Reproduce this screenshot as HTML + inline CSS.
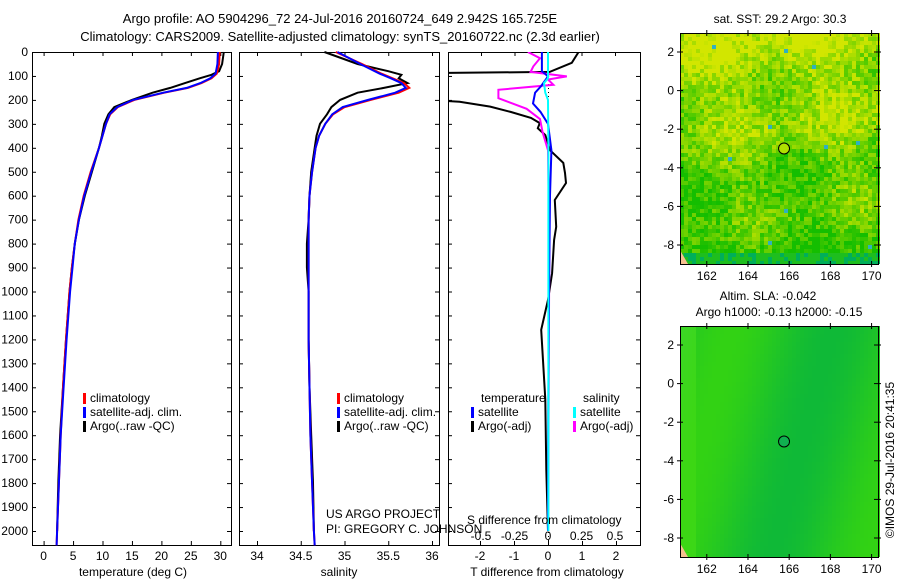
<!DOCTYPE html>
<html><head><meta charset="utf-8"><style>
body{margin:0;background:#fff}
svg{display:block;font-family:"Liberation Sans",sans-serif;font-size:12px}
</style></head><body>
<svg id="c" width="900" height="580" viewBox="0 0 900 580">
<rect width="900" height="580" fill="#fff"/>
<text x="340" y="23" text-anchor="middle" font-size="13">Argo profile: AO 5904296_72 24-Jul-2016 20160724_649 2.942S 165.725E</text>
<text x="340" y="41" text-anchor="middle" font-size="13">Climatology: CARS2009. Satellite-adjusted climatology: synTS_20160722.nc (2.3d earlier)</text>
<g id="g"></g>
</svg>
<script>
// ---- data ----
const depthTicks=[0,100,200,300,400,500,600,700,800,900,1000,1100,1200,1300,1400,1500,1600,1700,1800,1900,2000];
const tempTicks=[0,5,10,15,20,25,30];
const salTicks=[34,34.5,35,35.5,36];
const salTickLabels=["34","34.5","35","35.5","36"];
const tdiffTicks=[-2,-1,0,1,2];
const sdiffTicks=[-0.5,-0.25,0,0.25,0.5];
const sdiffTickLabels=["-0.5","-0.25","0","0.25","0.5"];

const climDepth=[0,50,90,110,130,150,170,200,230,260,300,350,400,500,600,700,800,900,1000,1200,1400,1600,1800,2000,2060];
const climTemp=[29.9,29.8,29.4,28.5,26.8,24.5,20.5,15.4,12.6,11.3,10.6,10.0,9.4,8.0,6.8,5.9,5.3,4.8,4.4,3.8,3.3,2.9,2.6,2.3,2.2];
const satTemp=[29.6,29.5,29.2,28.3,26.6,24.3,20.3,15.2,12.5,11.2,10.6,10.0,9.4,8.1,6.9,6.0,5.3,4.9,4.5,3.9,3.4,2.9,2.6,2.3,2.2];
const argoDepth=[0,50,80,95,110,130,150,170,200,230,260,300,350,400,500,600,700,800,900,1000,1200,1400,1600,1800,2000];
const argoTemp=[30.6,30.3,29.8,28.5,26.5,24.0,21.5,18.5,15.0,12.0,11.0,10.3,9.9,9.4,8.2,7.0,6.0,5.3,4.8,4.4,3.8,3.3,2.8,2.5,2.3];

const climSal=[34.9,35.2,35.42,35.55,35.68,35.74,35.62,35.3,35.0,34.87,34.78,34.71,34.67,34.63,34.6,34.59,34.59,34.59,34.59,34.59,34.6,34.61,34.63,34.65,34.66];
const satSal=[34.92,35.18,35.4,35.53,35.65,35.7,35.58,35.27,34.98,34.86,34.78,34.71,34.67,34.63,34.6,34.59,34.59,34.59,34.59,34.59,34.6,34.61,34.63,34.65,34.66];
const argoSal=[34.77,35.15,35.5,35.65,35.62,35.72,35.45,35.15,34.95,34.85,34.8,34.72,34.68,34.66,34.62,34.6,34.59,34.57,34.57,34.59,34.59,34.6,34.62,34.64,34.65];

const tdiffArgoDepth=[0,45,83,88,112,200,208,228,250,275,297,318,347,410,463,505,547,618,730,785,923,1035,1160,1450,1745,2000];
const tdiffArgo=[0.9,0.7,0.05,-3.5,-3.5,-3.5,-2.6,-1.7,-1.1,-0.5,-0.24,-0.3,-0.08,0.06,0.45,0.5,0.53,0.2,0.24,0.18,0.12,0.0,-0.2,-0.08,-0.05,0];
const tdiffSatDepth=[0,80,102,142,170,215,250,300,410,600,1000,1500,2000];
const tdiffSat=[-0.18,-0.18,0,-0.2,-0.38,-0.44,-0.22,0,0.1,0.06,0.03,0.01,0];
const sdiffArgoDepth=[0,26,60,83,102,115,137,158,193,237,280,335,410,800,2000];
const sdiffArgo=[-0.15,-0.06,-0.11,-0.13,0.14,0,0.04,-0.37,-0.37,-0.16,-0.06,-0.04,0,0.01,0];
const sdiffSatDepth=[0,110,130,170,200,400,1000,2000];
const sdiffSat=[0,0,-0.03,-0.02,0,0.003,0.003,0.003];

const latTicks=[2,0,-2,-4,-6,-8];
const lonTicks=[162,164,166,168,170];
const argoLon=[165.75];
const argoLat=[-3];

// ---- scales ----
const TOP=52,BOT=545;
const yD=d=>TOP+d*0.2395;
const xT=t=>43.6+t*5.89;
const xS=s=>257+(s-34)*87.5;
const xTD=v=>548+v*34;
const xSD=v=>548+v*134;
const NS='http://www.w3.org/2000/svg';
const g=document.getElementById('g');
function el(tag,attrs,parent){const e=document.createElementNS(NS,tag);for(const k in attrs)e.setAttribute(k,attrs[k]);(parent||g).appendChild(e);return e;}
function txt(x,y,s,anchor,parent){const t=el('text',{x:x,y:y,'text-anchor':anchor||'start'},parent);t.textContent=s;return t;}

function panel(name,x0,x1){
  const p=el('g',{});
  
  
  const r=el('rect',{x:x0+0.5,y:TOP+0.5,width:x1-x0,height:BOT-TOP,fill:'none',stroke:'#000','stroke-width':1},p);
  
  
  depthTicks.forEach(d=>{
    el('line',{x1:x0,x2:x0+4,y1:yD(d)+0.5,y2:yD(d)+0.5,stroke:'#000'},p);
    el('line',{x1:x1-4,x2:x1,y1:yD(d)+0.5,y2:yD(d)+0.5,stroke:'#000'},p);
  });
  return p;
}
function line(p,name,xs,ds,color){
  const pts=xs.map((v,i)=>`${v.toFixed(1)},${yD(ds[i]).toFixed(1)}`).join(' ');
  const l=el('polyline',{points:pts,fill:'none',stroke:color,'stroke-width':2},p);
  
  
}
function xticks(p,vals,f,labels,yPos,top){
  vals.forEach((v,i)=>{
    const x=f(v)+0.5;
    el('line',{x1:x,x2:x,y1:BOT-4,y2:BOT,stroke:'#000'},p);
    if(top!==false) el('line',{x1:x,x2:x,y1:TOP,y2:TOP+4,stroke:'#000'},p);
    if(labels){const t=txt(f(v),yPos,labels[i],'middle',p);
      
      }
  });
}
function legend(p,x,y,items){
  items.forEach((it,i)=>{
    el('rect',{x:x,y:y+i*14-9,width:3,height:11,fill:it[1]},p);
    const t=txt(x+7,y+i*14,it[0],'start',p);
    
    
  });
}

// panel 1
const p1=panel('temperature-panel',32,231);
depthTicks.forEach(d=>{const t=txt(28,yD(d)+4,String(d),'end',p1);
  
  });
xticks(p1,tempTicks,xT,tempTicks.map(String),560);
line(p1,'argo-temp-line',argoTemp.map(xT),argoDepth,'#000');
line(p1,'clim-temp-line',climTemp.map(xT),climDepth,'#f00');
line(p1,'sat-temp-line',satTemp.map(xT),climDepth,'#00f');
legend(p1,83,402,[['climatology','#f00'],['satellite-adj. clim.','#00f'],['Argo(..raw -QC)','#000']]);
let t1=txt(133,576,'temperature (deg C)','middle',p1);



// panel 2
const p2=panel('salinity-panel',239,439);
xticks(p2,salTicks,xS,salTickLabels,560);
line(p2,'argo-sal-line',argoSal.map(xS),argoDepth,'#000');
line(p2,'clim-sal-line',climSal.map(xS),climDepth,'#f00');
line(p2,'sat-sal-line',satSal.map(xS),climDepth,'#00f');
legend(p2,337,402,[['climatology','#f00'],['satellite-adj. clim.','#00f'],['Argo(..raw -QC)','#000']]);
let t2=txt(339,576,'salinity','middle',p2);


let u1=txt(326,518,'US ARGO PROJECT','start',p2);


let u2=txt(326,533,'PI: GREGORY C. JOHNSON','start',p2);



// panel 3
const p3=panel('difference-panel',448,640);
el('line',{x1:xTD(0)+0.5,x2:xTD(0)+0.5,y1:TOP,y2:BOT,stroke:'#000','stroke-dasharray':'1,3'},p3);
xticks(p3,tdiffTicks,xTD,tdiffTicks.map(String),560,false);
sdiffTicks.forEach((v,i)=>{
  el('line',{x1:xSD(v)+0.5,x2:xSD(v)+0.5,y1:TOP,y2:TOP+4,stroke:'#000'},p3);
  const t=txt(xSD(v),540,sdiffTickLabels[i],'middle',p3);
  
  
});
const cp=el('clipPath',{id:'cp3'});el('rect',{x:449,y:TOP,width:191,height:BOT-TOP},cp);
const p3c=el('g',{'clip-path':'url(#cp3)'},p3);
line(p3c,'argo-tdiff-line',tdiffArgo.map(xTD),tdiffArgoDepth,'#000');
line(p3c,'argo-sdiff-line',sdiffArgo.map(xSD),sdiffArgoDepth,'#f0f');
line(p3c,'sat-tdiff-line',tdiffSat.map(xTD),tdiffSatDepth,'#00f');
line(p3c,'sat-sdiff-line',sdiffSat.map(xSD),sdiffSatDepth,'#0ff');
let h1=txt(481,402,'temperature','start',p3);


let h2=txt(583,402,'salinity','start',p3);


legend(p3,471,416,[['satellite','#00f'],['Argo(-adj)','#000']]);
legend(p3,573,416,[['satellite','#0ff'],['Argo(-adj)','#f0f']]);
let s3=txt(467,524,'S difference from climatology','start',p3);


let t3=txt(547,576,'T difference from climatology','middle',p3);



// maps (image texture)
function hash(i,j,k){let h=(i*374761393+j*668265263+k*2147483647)|0;h=(h^(h>>>13))*1274126177|0;return ((h^(h>>>16))>>>0)/4294967296;}
function map(name,y0,kind){
  const x0=680,x1=878,y1=y0+231;
  const xL=lon=>x0+(lon-160.7)*20.6;
  const yL=lat=>y0+19+(2-lat)*19.3;
  const m=el('g',{});
  
  
  const cs=4;
  for(let j=0;j*cs<y1-y0;j++)for(let i=0;i*cs<x1-x0;i++){
    let c;
    if(kind===1){
      const f=j/58;const n=hash(i,j,1);
      const blob=0.5+0.5*Math.sin(i/7+j/9)*Math.cos(j/6-i/11);
      let v=0.9-f*0.8+(blob-0.5)*0.6+(n-0.5)*0.7;
      v=Math.max(0,Math.min(1,v));
      let r=Math.round(20+v*190), gg=Math.round(190+v*40);
      c=`rgb(${r},${gg},0)`;
      if(j>=55) c=n>0.6?'rgb(0,175,90)':'rgb(30,190,30)';
      if(n>0.997) c='#30b0c0';
    } else {
      const v=Math.sin(i/8+j/30)*0.5+0.5;
      const r=Math.round(15+v*35), gg=Math.round(185+v*25);
      c=`rgb(${i<4?60:r},${i<4?215:gg},${Math.round(55-v*35)})`;
    }
    el('rect',{x:x0+i*cs,y:y0+j*cs,width:cs,height:Math.min(cs,y1-y0-j*cs),fill:c},m);
  }
  el('polygon',{points:`${x0},${y1-14} ${x0+8},${y1} ${x0},${y1}`,fill:'#f5c090'},m);
  el('rect',{x:x0+0.5,y:y0+0.5,width:x1-x0,height:y1-y0,fill:'none',stroke:'#000'},m);
  latTicks.forEach(l=>{el('line',{x1:x1-4,x2:x1+3,y1:yL(l),y2:yL(l),stroke:'#000'},m);
    el('line',{x1:x0-3,x2:x0+3,y1:yL(l),y2:yL(l),stroke:'#000'},m);
    const t=txt(x0-6,yL(l)+4,String(l),'end',m);
    
    });
  lonTicks.forEach(l=>{el('line',{x1:xL(l),x2:xL(l),y1:y0-3,y2:y0+3,stroke:'#000'},m);
    el('line',{x1:xL(l),x2:xL(l),y1:y1-3,y2:y1+3,stroke:'#000'},m);
    const t=txt(xL(l),y1+16,String(l),'middle',m);
    
    });
  argoLon.forEach((lo,i)=>{const c=el('circle',{cx:xL(lo),cy:yL(argoLat[i]),r:5.5,fill:kind===1?'#b0e000':'#10b050',stroke:'#000'},m);
    
    });
}
map('sst-map',33,1);
map('sla-map',326,2);
let mt1=txt(780,23,'sat. SST: 29.2 Argo: 30.3','middle');


let mt2=txt(768,300,'Altim. SLA: -0.042','middle');


let mt3=txt(779,316,'Argo h1000: -0.13 h2000: -0.15','middle');


let cr=txt(0,0,'©IMOS 29-Jul-2016 20:41:35','middle');
cr.setAttribute('transform','translate(894,460) rotate(-90)');


</script>
</body></html>
